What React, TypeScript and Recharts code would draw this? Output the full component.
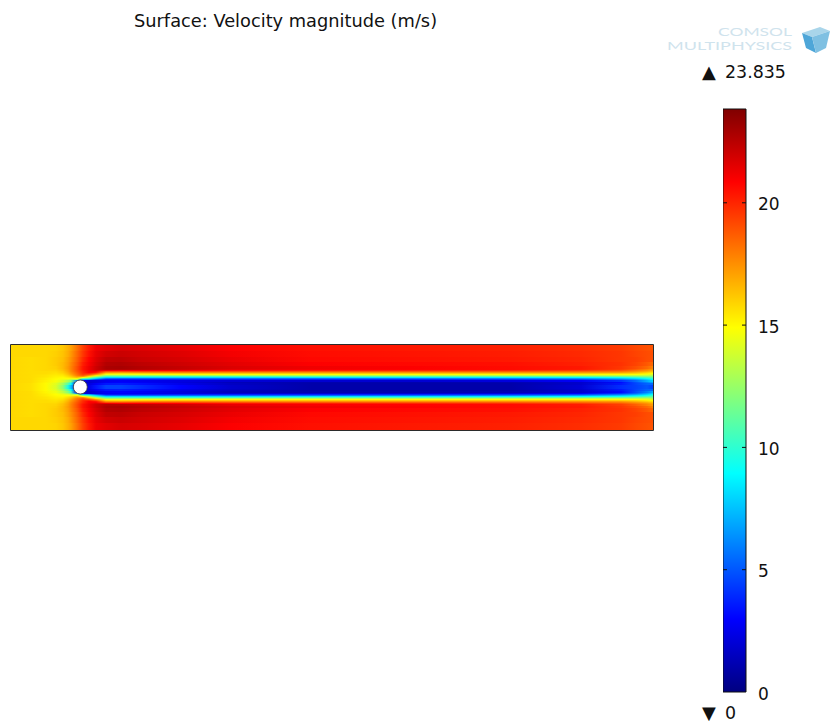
import React from 'react';
import { Area, Bar, ComposedChart, ReferenceArea, ReferenceDot, XAxis, YAxis } from 'recharts';

// stations along the channel, distance from the inlet wall
const xStations = [0, 20, 35, 45, 52, 57, 60, 66, 72, 78, 85, 95, 110, 130, 170, 220, 300, 400, 500, 570, 610, 625, 636, 642];

// bands either side of the centreline, distance from the axis
const bandEdges = [0, 2, 4, 5.5, 7, 8, 9, 10, 11, 12, 13, 14, 15, 16, 17, 18.5, 21, 25, 30, 36, 43];

const speedR1 = [15.8, 15.6, 15, 14, 12.2, 9.5, 7.5, 2, 2, 2.5, 3.5, 4.5, 4.5, 4, 3, 1.8, 1, 1, 1, 2, 4, 4.5, 5, 4.5];
const speedR3 = [15.8, 15.6, 15, 14.2, 12.8, 11, 9, 2, 2, 2.2, 2.8, 3.5, 3.6, 3.3, 2.5, 1.6, 1, 1, 1, 1.8, 3.5, 4.6, 5.3, 5.4];
const speedR5 = [15.8, 15.7, 15.1, 14.5, 13.4, 12, 10.5, 3, 2, 1.8, 2.2, 2.8, 3, 2.8, 2.2, 1.4, 1.1, 1.1, 1.2, 1.8, 3.2, 4.8, 6, 7];
const speedR6 = [15.8, 15.7, 15.2, 14.7, 14, 13, 12, 6, 2.5, 2, 2.2, 2.6, 2.8, 2.6, 2.3, 2, 1.9, 1.9, 2.2, 2.8, 4.2, 5.5, 7, 8];
const speedR7 = [15.8, 15.7, 15.3, 14.9, 14.5, 14.2, 13.5, 13, 7.5, 7, 5, 3.5, 3.5, 3.6, 3.8, 3.8, 3.8, 3.9, 4.2, 4.6, 5.8, 6.8, 8, 9];
const speedR8 = [15.8, 15.7, 15.3, 15, 14.8, 14.8, 14.5, 15, 11.5, 10.5, 8, 5.5, 5.3, 5.3, 5.4, 5.5, 5.5, 5.7, 6, 6.5, 7.5, 8.3, 9.3, 10];
const speedR9 = [15.8, 15.7, 15.4, 15.1, 15, 15.3, 15.6, 16.4, 15, 13, 10.5, 8, 8, 8, 8, 8, 8.2, 8.3, 8.5, 8.8, 9.3, 10, 10.6, 11];
const speedR10 = [15.8, 15.7, 15.5, 15.2, 15.2, 15.7, 16.1, 17.2, 17.5, 15.5, 13, 10.5, 10.5, 10.3, 10.3, 10.5, 10.8, 10.8, 11, 11.2, 11.5, 11.8, 12, 12];
const speedR11 = [15.8, 15.7, 15.5, 15.3, 15.4, 16, 16.5, 17.9, 18.8, 17.5, 15.5, 12.5, 12.5, 12.5, 12.7, 13, 13, 13, 13.2, 13.3, 13.4, 13.4, 13.4, 13];
const speedR12 = [15.8, 15.7, 15.6, 15.4, 15.6, 16.3, 16.9, 18.2, 19.4, 19, 17.5, 14.5, 14.5, 14.7, 15, 15, 15, 15, 15, 15, 15, 14.8, 14.4, 14];
const speedR13 = [15.8, 15.7, 15.7, 15.5, 15.8, 16.5, 17.2, 18.4, 19.7, 20, 19, 16, 15.8, 16, 16.2, 16.2, 16.2, 16.2, 16.2, 16.2, 16, 15.8, 15.3, 14.8];
const speedR14 = [15.8, 15.7, 15.7, 15.6, 16, 16.7, 17.4, 18.6, 19.9, 20.8, 20.4, 17.5, 17.3, 17.6, 17.8, 17.6, 17.5, 17.5, 17.5, 17.4, 17.2, 16.6, 16, 15.5];
const speedR15 = [15.8, 15.7, 15.7, 15.7, 16.1, 16.9, 17.6, 18.8, 20, 20.9, 21, 19, 19, 19.2, 19.2, 19, 18.8, 18.8, 18.7, 18.4, 18, 17.4, 16.8, 16.2];
const speedR16 = [15.8, 15.7, 15.8, 15.8, 16.3, 17, 17.7, 18.9, 20.2, 21, 21.6, 21.2, 20.8, 20.9, 20.8, 20.4, 20.2, 20, 19.8, 19.4, 18.8, 18, 17.4, 16.8];
const speedR17 = [15.8, 15.7, 15.8, 15.9, 16.4, 17.1, 17.8, 19, 20.4, 21.2, 22, 22.6, 22.6, 22.4, 22, 21.4, 21, 20.8, 20.6, 20.2, 19.4, 18.6, 17.8, 17.2];
const speedR19 = [15.8, 15.7, 15.8, 16, 16.5, 17.2, 17.8, 19, 20.4, 21.2, 22, 22.8, 22.9, 22.6, 22.2, 21.7, 21.2, 20.9, 20.6, 20.3, 19.6, 19, 18.4, 17.8];
const speedR23 = [15.8, 15.7, 15.8, 16.1, 16.5, 17.1, 17.7, 18.8, 20.2, 21, 21.8, 22.6, 22.7, 22.4, 22, 21.5, 20.9, 20.7, 20.5, 20.1, 19.7, 19.3, 18.8, 18.4];
const speedR27 = [15.8, 15.7, 15.8, 16.1, 16.4, 17, 17.5, 18.6, 19.9, 20.8, 21.6, 22.3, 22.4, 22.1, 21.8, 21.3, 20.7, 20.5, 20.3, 20, 19.6, 19.4, 19.1, 19];
const speedR33 = [15.8, 15.8, 15.8, 16, 16.3, 16.8, 17.3, 18.4, 19.6, 20.5, 21.4, 21.9, 22.1, 21.9, 21.6, 21.1, 20.6, 20.4, 20.2, 19.9, 19.6, 19.3, 19.1, 19];
const speedR39 = [15.8, 15.8, 15.8, 15.9, 16.2, 16.7, 17.1, 18.2, 19.4, 20.3, 21.2, 21.5, 21.8, 21.7, 21.4, 20.9, 20.5, 20.3, 20.1, 19.8, 19.5, 19.2, 19, 18.9];

const bandSpeeds = [
  speedR1, speedR3, speedR5, speedR6, speedR7, speedR8, speedR9, speedR10, speedR11, speedR12,
  speedR13, speedR14, speedR15, speedR16, speedR17, speedR19, speedR23, speedR27, speedR33, speedR39,
];

const scaleMax = 23.835;
const scaleTicks = [0, 5, 10, 15, 20];
// stops of the colour scale bar
const scaleStops = [0, 0.125, 0.375, 0.625, 0.875, 1];

const clamp = (n: number) => Math.max(0, Math.min(1, n));

// rainbow colour table, t in 0..1
const jet = (t: number) => {
  const r = clamp(Math.min(4 * t - 1.5, 4.5 - 4 * t));
  const g = clamp(Math.min(4 * t - 0.5, 3.5 - 4 * t));
  const b = clamp(Math.min(4 * t + 0.5, 2.5 - 4 * t));
  return `rgb(${Math.round(r * 255)},${Math.round(g * 255)},${Math.round(b * 255)})`;
};

const fieldData = xStations.map((x) => {
  const row: Record<string, any> = { x };
  bandSpeeds.forEach((_, b) => {
    row[`up${b}`] = [bandEdges[b], bandEdges[b + 1]];
    row[`down${b}`] = [-bandEdges[b + 1], -bandEdges[b]];
  });
  return row;
});

const scaleData = [{ name: 'speed', value: scaleMax }];

const FieldChart = () => (
  <div style={{ position: 'absolute', left: 11, top: 345, width: 642, height: 85, overflow: 'hidden' }}>
    <div style={{ filter: 'blur(0.6px)', shapeRendering: 'crispEdges' }}>
      <ComposedChart width={642} height={85} data={fieldData} margin={{ top: 0, right: 0, bottom: 0, left: 0 }}>
        <defs>
          {bandSpeeds.map((speeds, b) => (
            <linearGradient key={b} id={`band${b}`} x1="0" y1="0" x2="1" y2="0">
              {speeds.map((v, i) => (
                <stop key={i} offset={xStations[i] / 642} stopColor={jet(v / scaleMax)} />
              ))}
            </linearGradient>
          ))}
        </defs>
        <XAxis dataKey="x" type="number" domain={[0, 642]} hide />
        <YAxis type="number" domain={[-43, 42]} hide allowDataOverflow />
        {bandSpeeds.map((_, b) => (
          <Area key={`u${b}`} dataKey={`up${b}`} type="linear" fill={`url(#band${b})`} fillOpacity={1} stroke="none" dot={false} activeDot={false} isAnimationActive={false} />
        ))}
        {bandSpeeds.map((_, b) => (
          <Area key={`d${b}`} dataKey={`down${b}`} type="linear" fill={`url(#band${b})`} fillOpacity={1} stroke="none" dot={false} activeDot={false} isAnimationActive={false} />
        ))}
      </ComposedChart>
    </div>
  </div>
);

// frame and the cylinder go on top, unblurred
const FieldOverlay = () => (
  <div style={{ position: 'absolute', left: 10, top: 344 }}>
    <ComposedChart width={644} height={87} data={fieldData} margin={{ top: 0, right: 0, bottom: 0, left: 0 }}>
      <XAxis dataKey="x" type="number" domain={[-1, 643]} hide allowDataOverflow />
      <YAxis type="number" domain={[-44, 43]} hide allowDataOverflow />
      <ReferenceArea x1={-0.5} x2={642.5} y1={-43.5} y2={42.5} fill="none" stroke="#2b2b2b" strokeWidth={1} ifOverflow="visible" />
      <ReferenceDot x={69.3} y={0} r={7} fill="#ffffff" stroke="#333333" strokeWidth={0.8} ifOverflow="visible" />
    </ComposedChart>
  </div>
);

const ScaleTick = (props: any) => {
  const { x, y, payload } = props;
  const barRight = x - 12;
  return (
    <g>
      {payload.value > 0 && (
        <g stroke="#111111" strokeWidth={1}>
          <line x1={barRight - 23} x2={barRight - 19} y1={y} y2={y} />
          <line x1={barRight - 4} x2={barRight} y1={y} y2={y} />
        </g>
      )}
      <text x={x} y={y + 7.5} fontFamily="DejaVu Sans" fontSize={17} fill="#111111">{payload.value}</text>
    </g>
  );
};

const ColorScale = () => (
  <div style={{ position: 'absolute', left: 723, top: 108 }}>
    <ComposedChart width={109} height={604} data={scaleData} margin={{ top: 1, right: 0, bottom: 20, left: 0 }} barCategoryGap={0}>
      <defs>
        <linearGradient id="scaleFill" x1="0" y1="1" x2="0" y2="0">
          {scaleStops.map((t) => (
            <stop key={t} offset={t} stopColor={jet(t)} />
          ))}
        </linearGradient>
      </defs>
      <XAxis dataKey="name" type="category" hide />
      <YAxis
        type="number"
        orientation="right"
        domain={[0, scaleMax]}
        ticks={scaleTicks}
        interval={0}
        width={86}
        axisLine={false}
        tickLine={false}
        tickSize={0}
        tickMargin={12}
        tick={ScaleTick}
      />
      <Bar dataKey="value" fill="url(#scaleFill)" stroke="#111111" strokeWidth={1} isAnimationActive={false} />
    </ComposedChart>
  </div>
);

const Annotations = () => (
  <svg width={832} height={723} style={{ position: 'absolute', left: 0, top: 0 }}>
    <text x={134} y={27} fontFamily="DejaVu Sans" fontSize={17.8} fill="#111111">Surface: Velocity magnitude (m/s)</text>
    <text x={718} y={36} fontFamily="Lato" fontSize={11} fill="#cfe3ed" textLength={74} lengthAdjust="spacingAndGlyphs">COMSOL</text>
    <text x={667} y={50} fontFamily="Lato" fontSize={11} fill="#cfe3ed" textLength={125} lengthAdjust="spacingAndGlyphs">MULTIPHYSICS</text>
    <polygon points="802,33 820,27 830,31 812,37" fill="#a9d5ea" />
    <polygon points="802,33 812,37 816,53 806,48" fill="#4ea6d8" />
    <polygon points="812,37 830,31 826,48 816,53" fill="#7fc0e2" />
    <text x={702} y={78} fontFamily="DejaVu Sans" fontSize={18} fill="#111111">▲</text>
    <text x={725} y={78} fontFamily="DejaVu Sans" fontSize={17.4} fill="#111111">23.835</text>
    <text x={702} y={719} fontFamily="DejaVu Sans" fontSize={18} fill="#111111">▼</text>
    <text x={725} y={719} fontFamily="DejaVu Sans" fontSize={17.4} fill="#111111">0</text>
  </svg>
);

const App = () => (
  <div style={{ position: 'absolute', left: 0, top: 0, width: 832, height: 723, background: '#ffffff', overflow: 'hidden' }}>
    <Annotations />
    <FieldChart />
    <FieldOverlay />
    <ColorScale />
  </div>
);

export default App;
